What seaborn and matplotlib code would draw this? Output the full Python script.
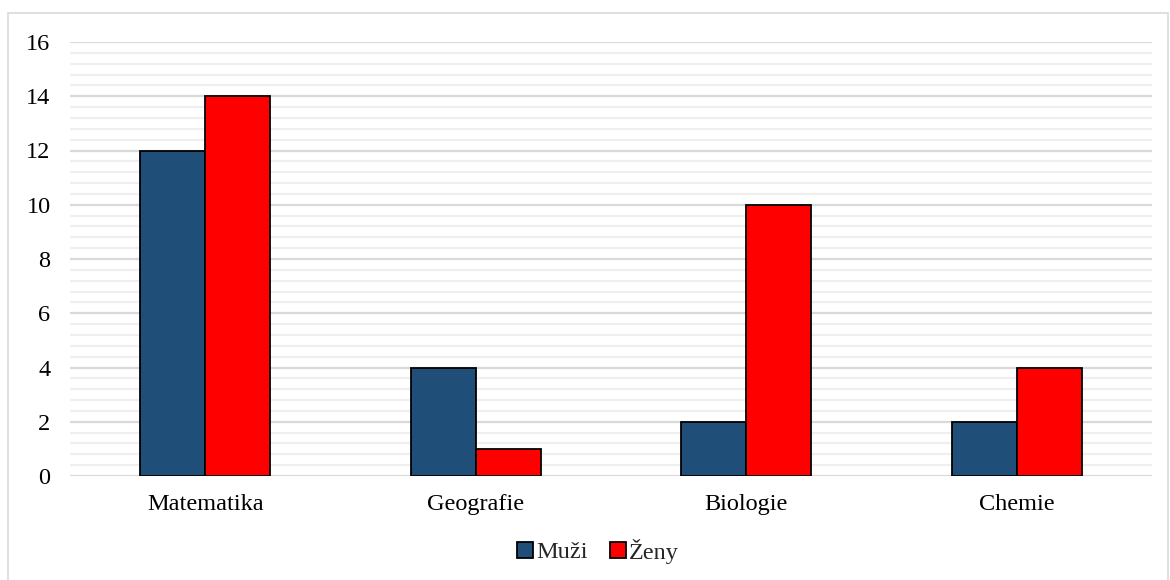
import matplotlib
matplotlib.use("Agg")
import matplotlib.pyplot as plt
from matplotlib.ticker import MultipleLocator
from matplotlib.patches import Rectangle
import seaborn as sns
import pandas as pd

subjects = ["Matematika", "Geografie", "Biologie", "Chemie"]
muzi = [12, 4, 2, 2]
zeny = [14, 1, 10, 4]
series_names = ["Muži", "Ženy"]
colors = ["#1f4e79", "#ff0000"]

df = pd.DataFrame({
    "Předmět": subjects * 2,
    "Počet": muzi + zeny,
    "Pohlaví": [series_names[0]] * len(subjects) + [series_names[1]] * len(subjects),
})

sns.set_theme(style="white")
plt.rcParams["font.family"] = ["Liberation Serif", "DejaVu Serif"]

fig = plt.figure(figsize=(11.7, 5.8), dpi=100)
ax = fig.add_axes([70 / 1170, 1 - 476 / 580, 1082 / 1170, 434 / 580])

sns.barplot(data=df, x="Předmět", y="Počet", hue="Pohlaví",
            palette=colors, width=0.48, edgecolor="black", linewidth=1.3,
            saturation=1, ax=ax, legend=False, zorder=3)

ax.set_xlim(-0.5, 3.5)
ax.set_ylim(0, 16)
ax.yaxis.set_major_locator(MultipleLocator(2))
ax.yaxis.set_minor_locator(MultipleLocator(0.4))
ax.grid(which="major", axis="y", color="#d9d9d9", linewidth=1.6, zorder=0)
ax.grid(which="minor", axis="y", color="#efefef", linewidth=1.6, zorder=0)
ax.set_axisbelow(True)
for s in ax.spines.values():
    s.set_visible(False)
ax.set_xlabel("")
ax.set_ylabel("")
ax.tick_params(axis="both", which="both", length=0, labelsize=17.5, colors="black")
ax.tick_params(axis="y", pad=14)
ax.tick_params(axis="x", pad=13)

# Legend at the bottom
handles = [Rectangle((0, 0), 1, 1, facecolor=c, edgecolor="black", linewidth=1.3) for c in colors]
fig.legend(handles, series_names, loc="center", bbox_to_anchor=(598 / 1170, 1 - 551 / 580),
           ncol=2, frameon=False, fontsize=17.5, handlelength=0.65, handleheight=0.65,
           handletextpad=0.15, columnspacing=0.9)

# Outer chart frame
fig.patches.append(Rectangle((8 / 1170, -0.01), 1160 / 1170, 1 - 13 / 580 + 0.01,
                             transform=fig.transFigure, fill=False,
                             edgecolor="#d9d9d9", linewidth=1.2))

fig.savefig("out.png", dpi=100, facecolor="white")
